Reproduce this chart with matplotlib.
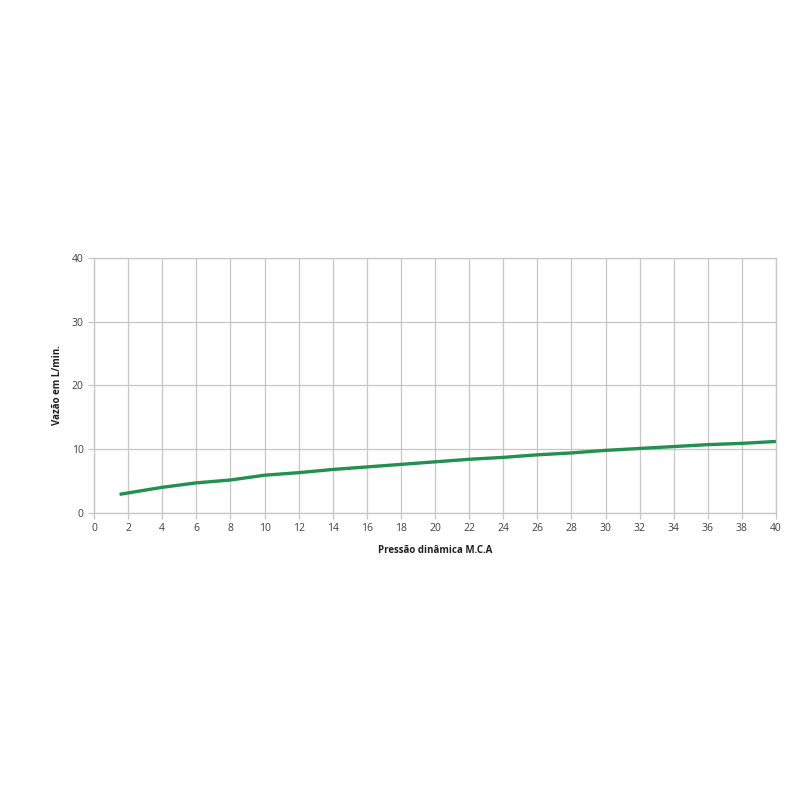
import matplotlib
matplotlib.use("Agg")
import matplotlib.pyplot as plt

# pressure (m.c.a) vs flow (L/min)
pressao = [1.5, 4, 6, 8, 10, 12, 14, 16, 18, 20, 22, 24, 26, 28, 30, 32, 34, 36, 38, 40]
vazao = [2.9, 4.0, 4.7, 5.15, 5.9, 6.3, 6.8, 7.2, 7.6, 8.0, 8.4, 8.7, 9.1, 9.4, 9.8, 10.1, 10.4, 10.7, 10.9, 11.2]

x_ticks = list(range(0, 41, 2))
y_ticks = [0, 10, 20, 30, 40]

plt.rcParams['font.family'] = ['Open Sans', 'DejaVu Sans']

fig = plt.figure(figsize=(8, 8), dpi=100)
ax = fig.add_axes([0.1175, 0.359, 0.8525, 0.3185])

ax.plot(pressao, vazao, color='#22914f', linewidth=2.4, solid_capstyle='butt')

ax.set_xlim(0, 40)
ax.set_ylim(0, 40)
ax.set_xticks(x_ticks)
ax.set_yticks(y_ticks)
ax.grid(True, color='#c6c6c6', linewidth=0.9)
ax.set_axisbelow(True)
for side in ['top', 'right', 'left', 'bottom']:
    ax.spines[side].set_color('#c6c6c6')
    ax.spines[side].set_linewidth(0.9)
ax.tick_params(axis='both', colors='#c6c6c6', labelcolor='#404040', labelsize=7.5, length=4, width=0.9)

ax.set_xlabel('Pressão dinâmica M.C.A', fontsize=7, fontweight='bold', color='#202020', labelpad=8)
ax.set_ylabel('Vazão em L/min.', fontsize=7, fontweight='bold', color='#202020', labelpad=6)

fig.savefig('out.png', dpi=100, facecolor='white')
